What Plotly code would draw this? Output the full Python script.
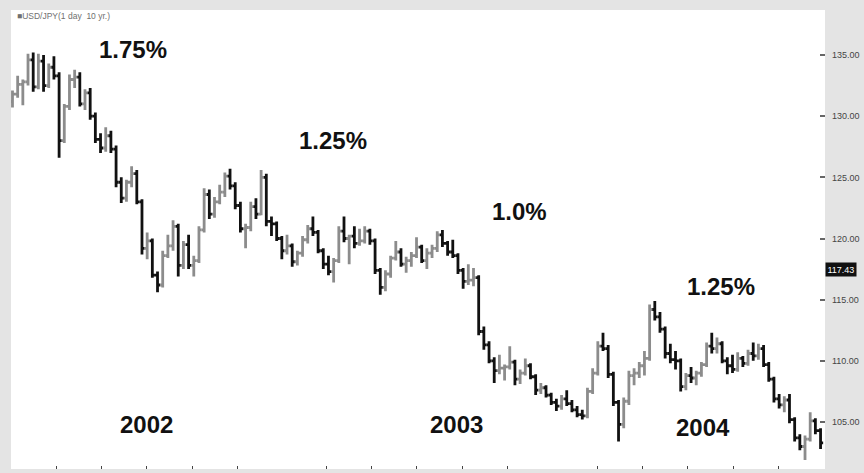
import pandas as pd
import plotly.graph_objects as go

# Weekly USD/JPY bars (Jan 2002 - Dec 2004)
week_start = "2002-01-01"
opens = [131.2,131.8,132.6,132.8,134.6,132.4,134.5,132.5,134.0,133.3,
         128.0,130.8,133.0,133.2,131.0,131.9,130.0,128.1,127.4,128.4,
         127.3,124.6,123.3,124.6,125.3,123.0,119.2,119.8,117.0,116.2,
         118.6,119.4,121.0,117.8,119.5,117.8,118.2,120.7,123.6,122.0,
         123.0,123.8,125.1,124.3,122.7,120.8,120.9,122.6,122.0,125.0,
         121.4,121.2,120.0,119.0,119.4,118.1,118.8,119.9,120.8,120.5,
         119.0,117.9,117.3,118.2,120.6,120.0,120.2,119.6,119.8,120.6,
         119.8,117.4,116.0,117.1,118.4,118.9,117.9,118.2,118.6,119.3,
         118.2,118.8,119.2,120.3,119.6,118.9,118.6,117.4,116.5,116.6,
         116.8,112.4,111.3,110.0,109.2,109.4,109.5,109.9,108.5,109.0,
         109.6,108.7,107.6,107.8,107.2,106.6,106.3,106.9,106.5,106.0,
         105.6,105.5,107.5,109.0,111.2,111.0,108.9,106.6,104.8,106.7,
         108.8,109.0,109.6,110.2,114.2,113.6,112.6,110.6,110.1,110.0,
         107.9,108.8,108.6,109.0,109.7,111.2,111.0,111.4,110.0,109.6,
         109.3,110.2,109.8,110.6,110.4,111.0,109.7,108.5,106.9,106.4,
         106.8,105.2,103.7,103.0,103.6,105.1,104.3]
highs = [132.1,133.3,133.0,135.1,135.2,135.1,135.0,134.3,134.9,133.6,
         131.0,133.4,133.8,133.6,132.2,132.3,130.3,128.6,129.1,128.8,
         127.6,125.0,124.8,125.9,125.6,123.2,120.5,120.0,117.3,119.0,
         120.3,121.5,121.2,119.8,120.3,118.6,121.0,124.1,124.0,123.4,
         124.4,125.4,125.7,124.6,123.0,121.2,123.0,123.3,125.6,125.3,
         121.8,121.4,120.2,120.3,119.6,119.0,120.2,121.1,121.8,120.7,
         119.2,118.6,118.4,121.0,121.8,120.3,121.0,120.8,121.0,120.8,
         120.0,117.6,117.4,118.6,119.8,119.2,118.5,118.9,120.1,119.5,
         119.2,119.5,120.6,120.7,119.8,119.9,118.8,117.6,117.9,117.6,
         117.0,112.8,111.6,110.3,110.5,109.7,111.2,110.1,109.3,110.2,
         109.8,108.9,108.2,108.0,107.4,106.9,107.2,107.6,106.8,106.3,
         106.0,107.8,109.4,111.6,112.3,111.3,109.1,106.8,107.0,109.2,
         109.4,109.9,110.8,114.6,114.9,114.0,112.8,111.4,110.8,110.2,
         109.0,109.5,109.2,109.9,111.5,112.3,111.9,111.6,110.3,110.5,
         110.7,110.4,110.9,111.5,111.4,111.3,109.9,108.7,107.3,107.1,
         107.3,105.4,104.0,103.9,105.8,105.3,104.5]
lows = [130.7,131.5,130.9,132.5,132.0,132.2,132.0,132.3,133.0,126.6,
        127.8,130.5,132.3,130.8,130.5,129.7,127.8,127.0,127.1,127.0,
        124.2,122.9,123.0,124.2,122.8,118.7,118.3,116.8,115.6,116.0,
        118.4,119.0,116.9,117.5,117.5,116.9,118.0,120.5,121.6,121.7,
        122.8,123.4,124.0,122.4,120.5,119.2,120.6,121.6,121.9,121.0,
        120.2,119.8,118.3,118.7,117.7,117.8,118.5,119.6,120.2,118.8,
        117.5,117.0,116.4,118.0,119.7,117.9,119.2,119.4,119.6,119.5,
        117.1,115.4,115.7,116.8,118.2,117.7,117.2,117.7,118.4,118.0,
        117.5,118.4,118.9,119.3,118.6,118.4,117.1,115.9,116.2,116.1,
        112.1,110.9,109.8,108.2,108.9,108.4,109.3,108.0,108.1,108.8,
        108.5,107.2,107.3,107.0,106.4,105.9,106.0,106.3,105.8,105.4,
        105.2,105.3,107.3,108.8,110.8,108.6,106.3,103.4,104.5,106.4,
        108.0,108.6,108.8,110.0,113.3,112.3,110.2,109.8,109.3,107.5,
        107.6,108.2,108.0,108.7,109.5,110.6,110.6,109.8,108.9,109.0,
        109.1,109.5,109.6,110.0,110.1,109.5,108.3,106.6,106.1,105.8,
        104.9,103.4,102.7,101.9,103.4,104.0,102.8]
closes = [131.8,132.6,132.8,134.6,132.4,134.5,132.5,134.0,133.3,128.0,
          130.8,133.0,133.2,131.0,131.9,130.0,128.1,127.4,128.4,127.3,
          124.6,123.3,124.6,125.3,123.0,119.2,119.8,117.0,116.2,118.6,
          119.4,121.0,117.8,119.5,117.8,118.2,120.7,123.6,122.0,123.0,
          123.8,125.1,124.3,122.7,120.8,120.9,122.6,122.0,125.0,121.4,
          121.2,120.0,119.0,119.4,118.1,118.8,119.9,120.8,120.5,119.0,
          117.9,117.3,118.2,120.6,120.0,120.2,119.6,119.8,120.6,119.8,
          117.4,116.0,117.1,118.4,118.9,117.9,118.2,118.6,119.3,118.2,
          118.8,119.2,120.3,119.6,118.9,118.6,117.4,116.5,116.6,116.8,
          112.4,111.3,110.0,109.2,109.4,109.5,109.9,108.5,109.0,109.6,
          108.7,107.6,107.8,107.2,106.6,106.3,106.9,106.5,106.0,105.6,
          105.5,107.5,109.0,111.2,111.0,108.9,106.6,104.8,106.7,108.8,
          109.0,109.6,110.2,114.2,113.6,112.6,110.6,110.1,110.0,107.9,
          108.8,108.6,109.0,109.7,111.2,111.0,111.4,110.0,109.6,109.3,
          110.2,109.8,110.6,110.4,111.0,109.7,108.5,106.9,106.4,106.8,
          105.2,103.7,103.0,103.6,105.1,104.3,103.3]

y_ticks = [105, 110, 115, 120, 125, 130, 135]
y_tick_text = ["105.00", "110.00", "115.00", "120.00", "125.00", "130.00", "135.00"]
x_ticks = ["2002-03-01", "2002-05-01", "2002-07-01", "2002-09-01", "2002-11-01",
           "2003-03-01", "2003-05-01", "2003-07-01", "2003-09-01", "2003-11-01",
           "2004-03-01", "2004-05-01", "2004-07-01", "2004-09-01", "2004-11-01"]
last_price = 117.43
rate_labels = ["1.75%", "1.25%", "1.0%", "1.25%"]
year_labels = ["2002", "2003", "2004"]

dates = pd.date_range(week_start, periods=len(closes), freq="7D")

fig = go.Figure(go.Ohlc(
    x=dates, open=opens, high=highs, low=lows, close=closes,
    increasing=dict(line=dict(color="#8c8c8c", width=2.8)),
    decreasing=dict(line=dict(color="#111111", width=2.8)),
    tickwidth=0.5, showlegend=False, hoverinfo="skip",
))

W, H = 864, 473
L, R, T, B = 11, 37, 10, 4
pw, ph = W - L - R, H - T - B

def px(xp):
    return (xp - L) / pw

def py(yp):
    return (H - B - yp) / ph

annots = []
rate_pos = [(133, 50), (334, 140), (521, 211), (723, 286)]
for t, (xx, yy) in zip(rate_labels, rate_pos):
    annots.append(dict(text="<b>%s</b>" % t, x=px(xx), y=py(yy), xref="paper", yref="paper",
                       showarrow=False, xanchor="center", yanchor="middle",
                       font=dict(family="Liberation Sans, Arial", size=24, color="#111111")))
year_pos = [(147, 424), (458, 424), (705, 427)]
for t, (xx, yy) in zip(year_labels, year_pos):
    annots.append(dict(text="<b>%s</b>" % t, x=px(xx), y=py(yy), xref="paper", yref="paper",
                       showarrow=False, xanchor="center", yanchor="middle",
                       font=dict(family="Liberation Sans, Arial", size=24, color="#111111")))
annots.append(dict(text="■USD/JPY(1 day  10 yr.)", x=px(15), y=py(16), xref="paper", yref="paper",
                   showarrow=False, xanchor="left", yanchor="middle",
                   font=dict(family="Liberation Sans, Arial", size=8.5, color="#707070")))
annots.append(dict(text="117.43", x=1.0, y=last_price, xref="paper", yref="y",
                   showarrow=False, xanchor="left", yanchor="middle", xshift=0,
                   bgcolor="#111111", borderpad=1.5,
                   font=dict(family="Liberation Sans, Arial", size=9, color="#ffffff")))

fig.update_layout(
    width=W, height=H,
    margin=dict(l=L, r=R, t=T, b=B),
    paper_bgcolor="#e4e4e4", plot_bgcolor="#ffffff",
    annotations=annots,
    xaxis=dict(type="date", range=["2001-12-30", "2005-01-03"],
               rangeslider=dict(visible=False),
               showgrid=False, zeroline=False, showline=False,
               tickvals=x_ticks, ticks="inside", ticklen=3, tickwidth=1,
               tickcolor="#444444", showticklabels=False),
    yaxis=dict(range=[101.16, 138.68], side="right",
               showgrid=False, zeroline=False, showline=False,
               tickvals=y_ticks, ticktext=y_tick_text,
               ticks="inside", ticklen=5, tickwidth=1.5, tickcolor="#666666",
               ticklabelstandoff=6,
               tickfont=dict(family="Liberation Sans, Arial", size=9, color="#444444")),
)

fig.write_html("out.html", config={"displayModeBar": False},
               post_script="document.body.style.margin='0';document.body.style.overflow='hidden';")
